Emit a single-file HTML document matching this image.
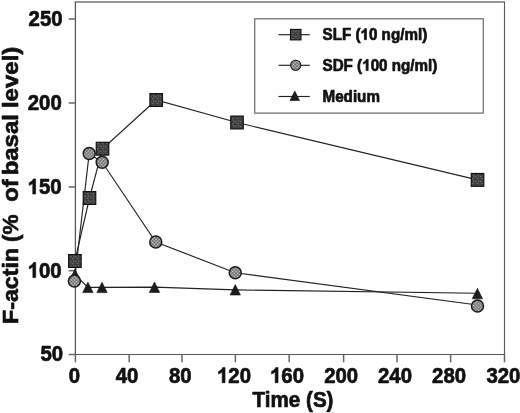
<!DOCTYPE html>
<html>
<head>
<meta charset="utf-8">
<title>F-actin time course</title>
<style>
html,body{margin:0;padding:0;background:#fff;}
body{width:520px;height:413px;overflow:hidden;font-family:"Liberation Sans",sans-serif;}
svg{display:block;filter:grayscale(1) blur(0.3px);}
text{font-family:"Liberation Sans",sans-serif;font-weight:bold;fill:#111;stroke:#111;stroke-width:0.65;stroke-linejoin:round;white-space:pre;}
.ax{stroke:#5c5c5c;stroke-width:1.3;fill:none;}
.tk{stroke:#666;stroke-width:1.5;fill:none;}
.ln{stroke:#222;stroke-width:1.15;fill:none;}
</style>
</head>
<body>
<svg width="520" height="413" viewBox="0 0 520 413">
<defs>
<pattern id="hatch" width="2.4" height="2.4" patternUnits="userSpaceOnUse" patternTransform="rotate(45)">
<rect width="2.4" height="2.4" fill="#4c4c4c"/>
<rect x="0.4" y="0.4" width="1.6" height="1.6" fill="#e2e2e2"/>
</pattern>
<pattern id="dark" width="5" height="5" patternUnits="userSpaceOnUse">
<rect width="5" height="5" fill="#444"/>
<rect x="0" y="1" width="1.5" height="1" fill="#686868"/>
<rect x="3" y="0" width="1" height="1.5" fill="#5e5e5e"/>
<rect x="2" y="3" width="1.5" height="1" fill="#6a6a6a"/>
<rect x="4" y="3.5" width="1" height="1" fill="#2c2c2c"/>
<rect x="1" y="4" width="1" height="1" fill="#2e2e2e"/>
<rect x="2" y="1.5" width="1" height="1" fill="#303030"/>
</pattern>
</defs>
<rect width="520" height="413" fill="#fff"/>

<line x1="74.80000000000001" y1="2.1" x2="505.1" y2="2.1" stroke="#767676" stroke-width="1.5"/>
<line x1="504.5" y1="2.1" x2="504.5" y2="354.5" stroke="#5a5a5a" stroke-width="1.1"/>
<line x1="75.4" y1="2.1" x2="75.4" y2="354.5" stroke="#585858" stroke-width="1.3"/>
<line x1="74.80000000000001" y1="354.5" x2="505.0" y2="354.5" stroke="#555" stroke-width="1.2"/>
<g class="tk">
<line x1="68.7" y1="19.0" x2="75.4" y2="19.0"/>
<line x1="68.7" y1="103.0" x2="75.4" y2="103.0"/>
<line x1="68.7" y1="186.95" x2="75.4" y2="186.95"/>
<line x1="68.7" y1="270.7" x2="75.4" y2="270.7"/>
<line x1="68.7" y1="354.5" x2="75.4" y2="354.5"/>
<line x1="75.4" y1="354.5" x2="75.4" y2="362.3"/>
<line x1="129.2" y1="354.5" x2="129.2" y2="362.3"/>
<line x1="182.0" y1="354.5" x2="182.0" y2="362.3"/>
<line x1="235.4" y1="354.5" x2="235.4" y2="362.3"/>
<line x1="289.2" y1="354.5" x2="289.2" y2="362.3"/>
<line x1="343.6" y1="354.5" x2="343.6" y2="362.3"/>
<line x1="397.0" y1="354.5" x2="397.0" y2="362.3"/>
<line x1="450.6" y1="354.5" x2="450.6" y2="362.3"/>
<line x1="504.5" y1="354.5" x2="504.5" y2="362.3"/>
</g>
<text transform="translate(62.60,25.70) scale(1.0,1.07)" font-size="20.4" text-anchor="end">250</text>
<text transform="translate(61.80,109.90) scale(1.0,1.07)" font-size="20.4" text-anchor="end">200</text>
<path d="M806 0H525V1059Q371 915 162 846V1101Q272 1137 401 1237.5Q530 1338 578 1472H806Z" transform="translate(27.56,194.05) scale(0.009961,-0.010253)" fill="#111" stroke="#111" stroke-width="65.3" stroke-linejoin="round"/><text transform="translate(38.91,194.05) scale(1.0,1.07)" font-size="20.4" text-anchor="start">50</text>
<path d="M806 0H525V1059Q371 915 162 846V1101Q272 1137 401 1237.5Q530 1338 578 1472H806Z" transform="translate(27.66,277.60) scale(0.009961,-0.010253)" fill="#111" stroke="#111" stroke-width="65.3" stroke-linejoin="round"/><text transform="translate(39.00,277.60) scale(1.0,1.07)" font-size="20.4" text-anchor="start">00</text>
<text transform="translate(63.20,361.20) scale(1.0,1.07)" font-size="20.4" text-anchor="end">50</text>
<text transform="translate(74.50,382.70) scale(1.0,1.07)" font-size="20.4" text-anchor="middle">0</text>
<text transform="translate(127.00,382.70) scale(1.0,1.07)" font-size="20.4" text-anchor="middle">40</text>
<text transform="translate(180.30,382.70) scale(1.0,1.07)" font-size="20.4" text-anchor="middle">80</text>
<path d="M806 0H525V1059Q371 915 162 846V1101Q272 1137 401 1237.5Q530 1338 578 1472H806Z" transform="translate(216.98,382.70) scale(0.009961,-0.010253)" fill="#111" stroke="#111" stroke-width="65.3" stroke-linejoin="round"/><text transform="translate(228.33,382.70) scale(1.0,1.07)" font-size="20.4" text-anchor="start">20</text>
<path d="M806 0H525V1059Q371 915 162 846V1101Q272 1137 401 1237.5Q530 1338 578 1472H806Z" transform="translate(269.98,382.70) scale(0.009961,-0.010253)" fill="#111" stroke="#111" stroke-width="65.3" stroke-linejoin="round"/><text transform="translate(281.33,382.70) scale(1.0,1.07)" font-size="20.4" text-anchor="start">60</text>
<text transform="translate(341.20,382.70) scale(1.0,1.07)" font-size="20.4" text-anchor="middle">200</text>
<text transform="translate(395.00,382.70) scale(1.0,1.07)" font-size="20.4" text-anchor="middle">240</text>
<text transform="translate(449.10,382.70) scale(1.0,1.07)" font-size="20.4" text-anchor="middle">280</text>
<text transform="translate(503.40,382.70) scale(1.0,1.07)" font-size="20.4" text-anchor="middle">320</text>
<text transform="translate(252.60,407.40) scale(1.0,1.03)" font-size="20.6" text-anchor="start">Time (S)</text>
<g id="ylab" font-size="21.7" xml:space="preserve" style="stroke-width:1.0">
<text transform="translate(18.2,324) rotate(-90) scale(1.0705,1)">F-actin</text>
<text transform="translate(18.2,242.1) rotate(-90) scale(1.0387,1)">(%</text>
<text transform="translate(18.2,201.7) rotate(-90) scale(1.0917,1)">of</text>
<text transform="translate(18.2,175.3) rotate(-90) scale(1.1023,1)">basal</text>
<text transform="translate(18.2,108.1) rotate(-90) scale(1.1076,1)">level)</text>
</g>
<polyline class="ln" points="74.9,261 89.5,198 102.5,148.7 156.2,100 237,122.5 477.55,179.9"/>
<polyline class="ln" points="74.4,281.1 89.2,153.5 102.2,162.3 155.75,242 235.25,272.75 477.5,305.0"/>
<polyline class="ln" points="75,274.6 87.9,287.4 102,287.4 154.5,287.2 235.25,289.9 477.4,293.3"/>
<g fill="url(#dark)" stroke="#111" stroke-width="1.2">
<rect x="68.65" y="254.60" width="12.5" height="12.8"/>
<rect x="83.25" y="191.60" width="12.5" height="12.8"/>
<rect x="96.25" y="142.30" width="12.5" height="12.8"/>
<rect x="149.95" y="93.60" width="12.5" height="12.8"/>
<rect x="230.75" y="116.10" width="12.5" height="12.8"/>
<rect x="471.30" y="173.50" width="12.5" height="12.8"/>
</g>
<g fill="#1c1c1c" stroke="#111" stroke-width="0.6">
<polygon points="75,269.10 80.20,279.50 69.80,279.50"/>
<polygon points="87.9,282.20 93.10,292.60 82.70,292.60"/>
<polygon points="102,282.20 107.20,292.60 96.80,292.60"/>
<polygon points="154.5,282.00 159.70,292.40 149.30,292.40"/>
<polygon points="235.25,284.60 240.45,295.00 230.05,295.00"/>
<polygon points="477.4,288.40 482.60,298.80 472.20,298.80"/>
</g>
<g fill="url(#hatch)" stroke="#1a1a1a" stroke-width="1.5">
<circle cx="74.4" cy="281.1" r="6.0"/>
<circle cx="89.2" cy="153.5" r="6.0"/>
<circle cx="102.2" cy="162.3" r="6.0"/>
<circle cx="155.75" cy="242" r="6.0"/>
<circle cx="235.25" cy="272.75" r="6.0"/>
<circle cx="477.5" cy="306" r="6.0"/>
</g>
<rect x="254.75" y="18.8" width="228.5" height="94.3" fill="#fff" stroke="#5a5a5a" stroke-width="1.1"/>
<g class="ln">
<line x1="278.5" y1="34.7" x2="309.8" y2="34.7"/>
<line x1="278.5" y1="65.3" x2="309.8" y2="65.3"/>
<line x1="278.5" y1="96.5" x2="309.8" y2="96.5"/>
</g>
<rect x="290.5" y="29.4" width="10.5" height="10.5" fill="url(#dark)" stroke="#111" stroke-width="1.1"/>
<circle cx="295.7" cy="65.3" r="5.1" fill="url(#hatch)" stroke="#1a1a1a" stroke-width="1.1"/>
<polygon points="294.75,91 299.5,100.5 290,100.5" fill="#1c1c1c" stroke="#111" stroke-width="0.6"/>
<text transform="translate(322.50,39.70) scale(1.0,1.06)" font-size="15.2" text-anchor="start" xml:space="preserve">SLF (</text><path d="M806 0H525V1059Q371 915 162 846V1101Q272 1137 401 1237.5Q530 1338 578 1472H806Z" transform="translate(360.49,39.70) scale(0.007422,-0.007568)" fill="#111" stroke="#111" stroke-width="87.6" stroke-linejoin="round"/><text transform="translate(368.95,39.70) scale(1.0,1.06)" font-size="15.2" text-anchor="start">0 ng/ml)</text>
<text transform="translate(322.50,70.50) scale(1.0,1.06)" font-size="15.2" text-anchor="start" xml:space="preserve">SDF (</text><path d="M806 0H525V1059Q371 915 162 846V1101Q272 1137 401 1237.5Q530 1338 578 1472H806Z" transform="translate(362.19,70.50) scale(0.007422,-0.007568)" fill="#111" stroke="#111" stroke-width="87.6" stroke-linejoin="round"/><text transform="translate(370.64,70.50) scale(1.0,1.06)" font-size="15.2" text-anchor="start">00 ng/ml)</text>
<text transform="translate(322.50,102.00) scale(1.0,1.06)" font-size="15.2" text-anchor="start">Medium</text>
</svg>
</body>
</html>
